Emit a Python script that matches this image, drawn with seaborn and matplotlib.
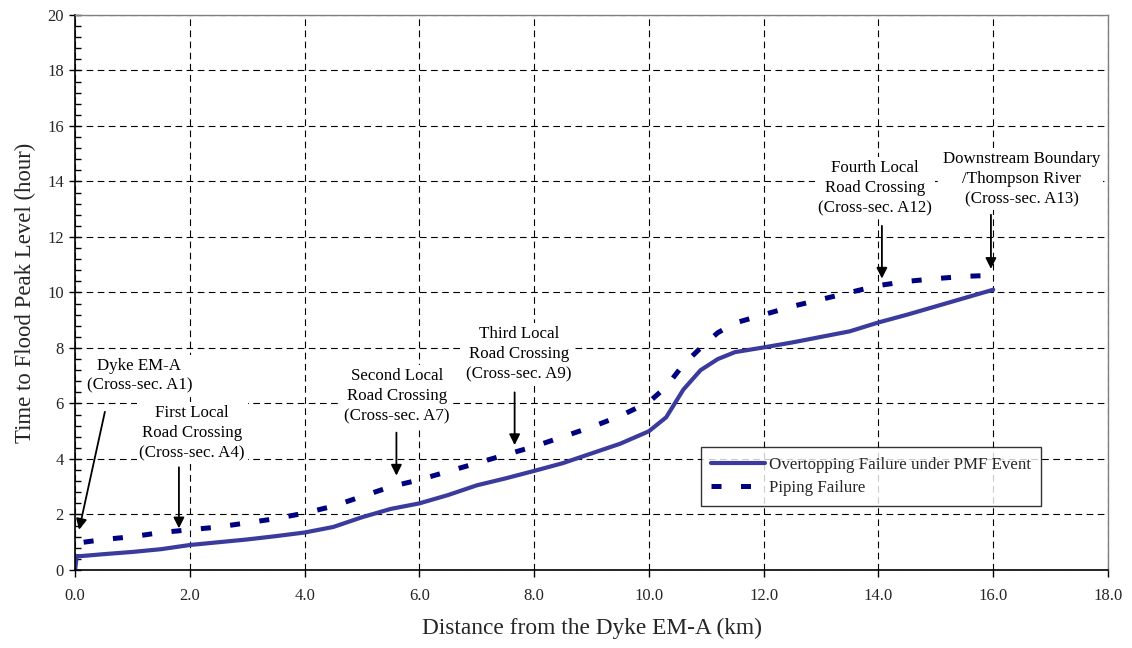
import matplotlib
matplotlib.use("Agg")
import matplotlib.pyplot as plt
from matplotlib.ticker import MultipleLocator
import numpy as np
import pandas as pd
import seaborn as sns

# Overtopping failure under PMF event: distance (km) vs time to peak (hour)
overtop_km = [0.0, 0.03, 0.1, 0.5, 1.0, 1.5, 2.0, 2.5, 3.0, 3.5, 4.0, 4.5, 5.0, 5.5,
              6.0, 6.5, 7.0, 7.5, 8.0, 8.5, 9.0, 9.5, 10.0, 10.3, 10.6, 10.9, 11.2,
              11.5, 12.0, 12.5, 13.0, 13.5, 14.0, 14.5, 15.0, 15.5, 16.0]
overtop_hr = [0.0, 0.5, 0.5, 0.57, 0.65, 0.75, 0.9, 1.0, 1.1, 1.22, 1.35, 1.55, 1.9, 2.2,
              2.4, 2.7, 3.05, 3.3, 3.57, 3.85, 4.2, 4.55, 5.0, 5.5, 6.5, 7.2, 7.6,
              7.85, 8.02, 8.2, 8.4, 8.6, 8.92, 9.2, 9.5, 9.8, 10.1]

# Piping failure
piping_km = [0.15, 0.5, 1.0, 1.5, 2.0, 2.5, 3.0, 3.5, 4.0, 4.5, 5.0, 5.5, 6.0, 6.5,
             7.0, 7.5, 8.0, 8.5, 9.0, 9.5, 10.0, 10.3, 10.6, 10.9, 11.2, 11.5, 12.0,
             12.5, 13.0, 13.5, 14.0, 14.5, 15.0, 15.5, 16.0]
piping_hr = [1.0, 1.1, 1.2, 1.35, 1.45, 1.55, 1.7, 1.85, 2.05, 2.3, 2.65, 3.0, 3.25, 3.55,
             3.85, 4.15, 4.45, 4.8, 5.15, 5.55, 6.05, 6.6, 7.4, 8.0, 8.55, 8.9, 9.2,
             9.5, 9.75, 10.0, 10.25, 10.4, 10.5, 10.58, 10.62]

series_names = ["Overtopping Failure under PMF Event", "Piping Failure"]

# Cross-section callouts
callout_labels = ["Dyke EM-A\n(Cross-sec. A1)",
                  "First Local\nRoad Crossing\n(Cross-sec. A4)",
                  "Second Local\nRoad Crossing\n(Cross-sec. A7)",
                  "Third Local\nRoad Crossing\n(Cross-sec. A9)",
                  "Fourth Local\nRoad Crossing\n(Cross-sec. A12)",
                  "Downstream Boundary\n/Thompson River\n(Cross-sec. A13)"]

sns.set_theme(style="white")
plt.rcParams["font.family"] = ["Liberation Serif", "DejaVu Serif"]

fig = plt.figure(figsize=(11.32, 6.48), dpi=100)
ax = fig.add_axes([0.0663, 0.1204, 0.9125, 0.8565])

df = pd.concat([
    pd.DataFrame({"km": overtop_km, "hr": overtop_hr, "series": series_names[0]}),
    pd.DataFrame({"km": piping_km, "hr": piping_hr, "series": series_names[1]}),
])

sns.lineplot(data=df[df.series == series_names[0]], x="km", y="hr", ax=ax,
             color="#3b3b9e", lw=3.0, label=series_names[0], sort=False)
sns.lineplot(data=df[df.series == series_names[1]], x="km", y="hr", ax=ax,
             color="#000080", lw=3.6, linestyle=(0, (2.0, 3.9)),
             label=series_names[1], sort=False)

ax.set_xlim(0, 18)
ax.set_ylim(0, 20)
ax.yaxis.set_minor_locator(MultipleLocator(0.4))
ax.set_xticks(np.arange(0, 19, 2))
ax.set_xticklabels([f"{v:.1f}" for v in np.arange(0, 19, 2)])
ax.set_yticks(np.arange(0, 21, 2))
ax.set_yticklabels([f"{int(v)}" for v in np.arange(0, 21, 2)])

ax.grid(True, which="major", color="black", lw=0.8, linestyle=(0, (6, 4)))
ax.set_axisbelow(True)

ax.tick_params(axis="x", which="major", direction="out", length=5, width=1,
               color="black", labelsize=12, pad=8, bottom=True)
ax.tick_params(axis="y", which="major", direction="inout", length=8, width=1,
               color="black", labelsize=12, pad=4, left=True)
ax.tick_params(axis="y", which="minor", direction="in", length=4, width=1,
               color="black", left=True)

for side in ["left", "bottom"]:
    ax.spines[side].set_color("black")
    ax.spines[side].set_linewidth(1.2)
for side in ["top", "right"]:
    ax.spines[side].set_color("#808080")
    ax.spines[side].set_linewidth(1.0)

ax.set_xlabel("Distance from the Dyke EM-A (km)", fontsize=16.8, labelpad=10)
ax.set_ylabel("Time to Flood Peak Level (hour)", fontsize=16.4, labelpad=8)

# Callout text centres, arrow tails and arrow heads (km, hour)
text_xy = [(1.12, 7.0), (2.04, 4.94), (5.61, 6.27), (7.73, 7.78), (13.94, 13.77), (16.5, 14.09)]
arrow_from = [(0.52, 5.7), (1.81, 3.7), (5.6, 4.95), (7.66, 6.4), (14.06, 12.4), (15.96, 12.8)]
arrow_to = [(0.07, 1.45), (1.81, 1.5), (5.6, 3.4), (7.66, 4.5), (14.06, 10.5), (15.96, 10.85)]

for label, (tx, ty), tail, head in zip(callout_labels, text_xy, arrow_from, arrow_to):
    ax.text(tx, ty, label, ha="center", va="center", fontsize=12.2,
            linespacing=1.35, color="black", zorder=4,
            bbox=dict(facecolor="white", edgecolor="none", pad=2))
    ax.annotate("", xy=head, xytext=tail, zorder=5,
                arrowprops=dict(arrowstyle="-|>", color="black", lw=1.3,
                                mutation_scale=16, shrinkA=0, shrinkB=0))

leg = ax.legend(loc="lower left", bbox_to_anchor=(0.606, 0.115), fontsize=12.2,
                frameon=True, fancybox=False, shadow=False, handlelength=3.2,
                handletextpad=0.2, borderpad=0.6, labelspacing=0.4,
                borderaxespad=0)
leg.get_frame().set_edgecolor("black")
leg.get_frame().set_linewidth(1.0)

fig.savefig("out.png", dpi=100, facecolor="white")
